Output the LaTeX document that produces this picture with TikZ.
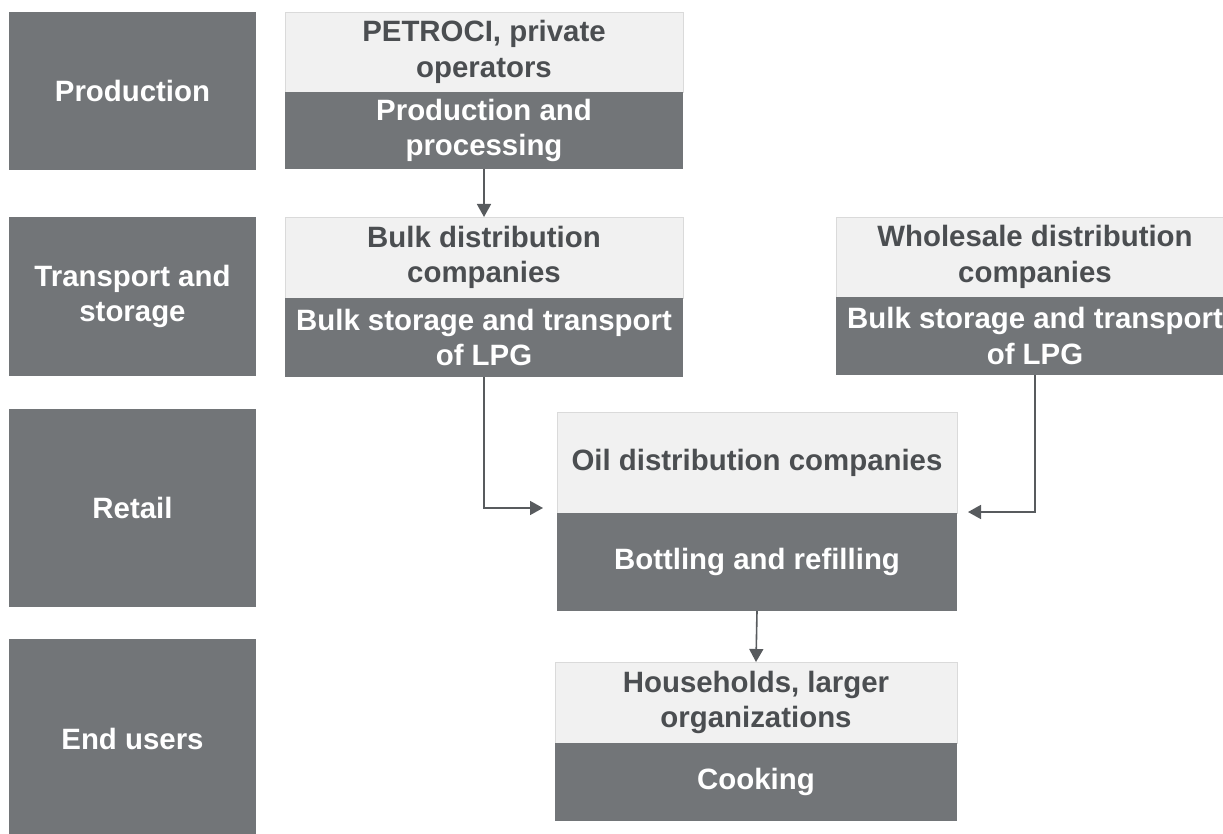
\documentclass[tikz,border=0pt]{standalone}
\usepackage{fontspec}
\setmainfont{Liberation Sans}
\usetikzlibrary{arrows.meta}
\definecolor{darkfill}{HTML}{727578}
\definecolor{lightfill}{HTML}{F1F1F1}
\definecolor{edgegrey}{HTML}{DADADA}
\definecolor{inktext}{HTML}{4B4E51}
\definecolor{linkgrey}{HTML}{585B5E}
\begin{document}
\begin{tikzpicture}[x=1pt,y=-1pt,
  every node/.style={inner sep=0pt, outer sep=0pt, align=center,
    font=\fontsize{29.4}{35.5}\selectfont\bfseries},
  stage/.style={fill=darkfill, text=white, minimum width=247pt},
  actor/.style={fill=lightfill, draw=edgegrey, line width=0.8pt, text=inktext},
  task/.style={fill=darkfill, text=white},
  link/.style={draw=linkgrey, line width=1.6pt,
    -{Triangle[length=13pt,width=14pt]}}
]
\useasboundingbox (0,0) rectangle (1223,834);
\clip (0,0) rectangle (1223,834);

% stage column
\node[stage, minimum height=158pt] (sprod)  at (132.5,91)    {Production};
\node[stage, minimum height=159pt] (strans) at (132.5,296.5) {Transport and\\storage};
\node[stage, minimum height=198pt] (sret)   at (132.5,508)   {Retail};
\node[stage, minimum height=199pt] (send)   at (132.5,738.5) {End users};

% production
\node[actor, minimum width=398pt, minimum height=80pt] (peta) at (484,52)    {PETROCI, private\\operators};
\node[task,  minimum width=398pt, minimum height=77pt] (petb) at (484,130.5) {Production and\\processing};

% bulk distribution
\node[actor, minimum width=398pt, minimum height=81pt] (bulka) at (484,257.5) {Bulk distribution\\companies};
\node[task,  minimum width=398pt, minimum height=79pt] (bulkb) at (484,337.5) {Bulk storage and transport\\of LPG};

% wholesale distribution
\node[actor, minimum width=398pt, minimum height=80pt] (whola) at (1035,257) {Wholesale distribution\\companies};
\node[task,  minimum width=398pt, minimum height=78pt] (wholb) at (1035,336) {Bulk storage and transport\\of LPG};

% oil distribution
\node[actor, minimum width=400pt, minimum height=101pt] (oila) at (757,462.5) {Oil distribution companies};
\node[task,  minimum width=400pt, minimum height=98pt]  (oilb) at (757,562)   {Bottling and refilling};

% end users
\node[actor, minimum width=402pt, minimum height=81pt] (hha) at (756,702.5) {Households, larger\\organizations};
\node[task,  minimum width=402pt, minimum height=78pt] (hhb) at (756,782)   {Cooking};

% arrow ends beside the oil distribution box
\coordinate (inleft)  at (543,508);
\coordinate (inright) at (968,512);

\draw[link] (petb.south) -- (bulka.north);
\draw[link] (bulkb.south) |- (inleft);
\draw[link] (wholb.south) |- (inright);
\draw[link] (oilb.south) -- (hha.north);
\end{tikzpicture}
\end{document}
